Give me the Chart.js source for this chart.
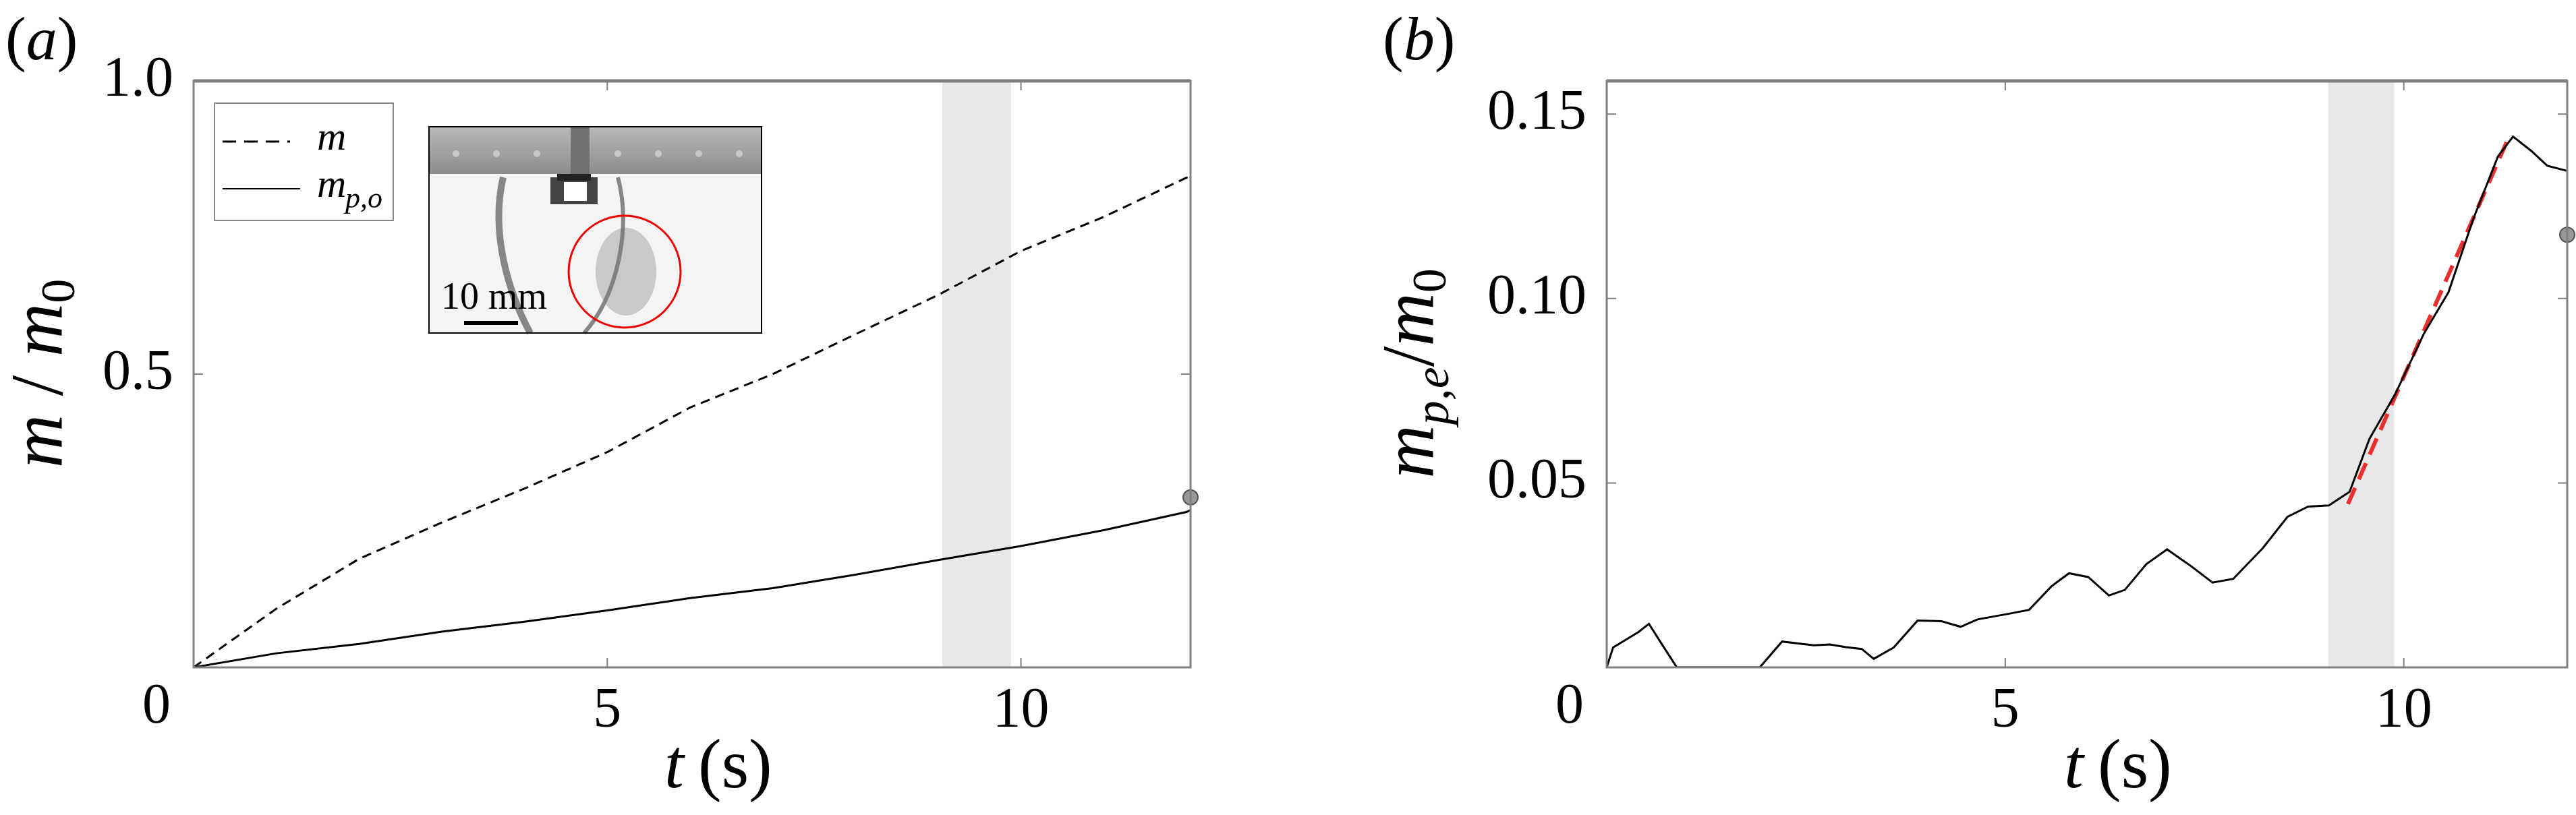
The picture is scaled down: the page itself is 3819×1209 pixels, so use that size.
<!DOCTYPE html><html><head><meta charset="utf-8">
<script src="https://cdn.jsdelivr.net/npm/chart.js@4"></script>
<style>body{margin:0;background:#fff;width:3819px;height:1209px;position:relative;overflow:hidden}
canvas{position:absolute;top:0}</style></head><body>
<div style="position:absolute;left:0;top:0;width:1900px;height:1209px"><canvas id="a"></canvas></div>
<div style="position:absolute;left:1900px;top:0;width:1919px;height:1209px"><canvas id="b"></canvas></div>
<script>
const tA=[0,1,2,3,4,5,6,7,8,9,10,11,12,12.05];
const mTotal=[0,0.10,0.185,0.247,0.305,0.367,0.443,0.50,0.568,0.635,0.71,0.768,0.835,0.833];
const mPO=[0,0.024,0.04,0.061,0.078,0.097,0.118,0.135,0.158,0.183,0.207,0.234,0.265,0.268];
const dotA=[{x:12.05,y:0.29}];
const tB=[0,0.08,0.4,0.53,0.7,0.88,1.92,2.2,2.4,2.6,2.8,3.0,3.2,3.35,3.6,3.9,4.2,4.44,4.65,5.06,5.3,5.58,5.8,6.04,6.3,6.5,6.77,7.03,7.34,7.6,7.86,8.23,8.54,8.8,9.06,9.32,9.57,9.89,10.25,10.56,10.87,11.18,11.37,11.6,11.8,12.05];
const mPE=[0,0.0054,0.0096,0.0118,0.006,0,0,0.007,0.0065,0.006,0.0062,0.0055,0.005,0.0023,0.0054,0.0127,0.0125,0.011,0.013,0.0146,0.0156,0.022,0.0255,0.0245,0.0195,0.021,0.028,0.032,0.0273,0.023,0.024,0.0323,0.0408,0.0436,0.0439,0.0476,0.062,0.074,0.0904,0.1017,0.1215,0.1385,0.1439,0.14,0.136,0.1346];
const fitT=[9.3,11.32], fitV=[0.0443,0.1439];
const dotB=[{x:12.05,y:0.1173}];
const band=[9.05,9.88];
const F='"Liberation Serif", serif';
function pts(t,v){return t.map((x,i)=>({x,y:v[i]}));}
function decor(opts){return{id:'d',
beforeDatasetsDraw(c){const x=c.scales.x,y=c.scales.y,g=c.ctx,a=c.chartArea;g.save();g.fillStyle='#e8e8e8';
 g.fillRect(x.getPixelForValue(band[0]),a.top,x.getPixelForValue(band[1])-x.getPixelForValue(band[0]),a.bottom-a.top);g.restore();},
afterDraw(c){const x=c.scales.x,y=c.scales.y,g=c.ctx,a=c.chartArea;g.save();
 g.strokeStyle='#808080';g.lineWidth=3;g.strokeRect(a.left,a.top,a.right-a.left,a.bottom-a.top);
 g.lineWidth=5;g.beginPath();g.moveTo(a.left,a.top);g.lineTo(a.right,a.top);g.stroke();g.lineWidth=2;
 for(const v of opts.xt){const p=x.getPixelForValue(v);g.beginPath();g.moveTo(p,a.bottom);g.lineTo(p,a.bottom-14);g.moveTo(p,a.top);g.lineTo(p,a.top+14);g.stroke();}
 for(const v of opts.yt){const p=y.getPixelForValue(v);g.beginPath();g.moveTo(a.left,p);g.lineTo(a.left+14,p);g.moveTo(a.right,p);g.lineTo(a.right-14,p);g.stroke();}
 g.fillStyle='#000';g.font='84px '+F;g.textAlign='center';g.textBaseline='top';g.fillText('0',a.left-55,a.bottom+18);
 g.textAlign='left';g.textBaseline='alphabetic';g.font='italic 104px '+F;const tx=opts.xtx;g.fillText('t',tx,1168);
 g.font='104px '+F;g.fillText('(s)',tx+50,1168);
 g.font='92px '+F;g.fillText('(',opts.pl,88);let w=g.measureText('(').width;g.font='italic 92px '+F;g.fillText(opts.plc,opts.pl+w,88);
 let w2=g.measureText(opts.plc).width;g.font='92px '+F;g.fillText(')',opts.pl+w+w2,88);
 g.translate(opts.ytx,554);g.rotate(-Math.PI/2);g.textAlign='left';g.textBaseline='alphabetic';
 const parts=opts.ytitle;let tot=0;for(const p of parts){g.font=(p[1]?'italic ':'')+p[2]+'px '+F;tot+=g.measureText(p[0]).width;}
 let cx=-tot/2;for(const p of parts){g.font=(p[1]?'italic ':'')+p[2]+'px '+F;g.fillText(p[0],cx,p[3]);cx+=g.measureText(p[0]).width;}
 g.restore(); if(opts.extra)opts.extra(g);}};}
function inset(g){g.save();const L=636,T=188,W=493,H=306;
 g.fillStyle='#f4f4f4';g.fillRect(L,T,W,H);
 let gr=g.createLinearGradient(0,T,0,T+70);gr.addColorStop(0,'#b8b8b8');gr.addColorStop(1,'#8c8c8c');g.fillStyle=gr;g.fillRect(L,T,W,70);
 g.fillStyle='#c8c8c8';for(let i=0;i<8;i++){g.beginPath();g.arc(L+40+i*60,T+40,5,0,7);g.fill();}
 g.fillStyle='#707070';g.fillRect(L+210,T,28,70);
 g.fillStyle='#444';g.fillRect(L+180,T+75,70,40);g.fillStyle='#fff';g.fillRect(L+200,T+82,34,28);
 g.fillStyle='#222';g.fillRect(L+190,T+70,50,10);
 g.strokeStyle='rgba(60,60,60,0.6)';g.lineWidth=10;g.beginPath();g.moveTo(L+110,T+75);g.bezierCurveTo(L+90,T+160,L+120,T+250,L+150,T+H);g.stroke();
 g.lineWidth=6;g.beginPath();g.moveTo(L+280,T+75);g.bezierCurveTo(L+300,T+150,L+280,T+250,L+230,T+H);g.stroke();
 g.fillStyle='rgba(120,120,120,0.35)';g.beginPath();g.ellipse(L+292,T+215,45,65,0,0,7);g.fill();
 g.strokeStyle='#e00';g.lineWidth=3;g.beginPath();g.ellipse(L+290,T+215,83,83,0,0,7);g.stroke();
 g.fillStyle='#000';g.fillRect(L+52,T+288,80,6);g.font='56px '+F;g.textAlign='left';g.fillText('10 mm',L+18,T+270);
 g.strokeStyle='#000';g.lineWidth=2;g.strokeRect(L,T,W,H);
 g.fillStyle='#fff';g.fillRect(318,153,265,174);g.strokeStyle='#888';g.strokeRect(318,153,265,174);
 g.strokeStyle='#000';g.lineWidth=3;g.setLineDash([20,12]);g.beginPath();g.moveTo(330,210);g.lineTo(430,210);g.stroke();
 g.setLineDash([]);g.lineWidth=2;g.beginPath();g.moveTo(330,280);g.lineTo(445,280);g.stroke();
 g.fillStyle='#000';g.font='italic 60px '+F;g.fillText('m',470,222);g.fillText('m',470,292);g.font='italic 44px '+F;g.fillText('p,o',512,308);
 g.restore();}
const common=(xmax,ymax,yticks)=>({responsive:false,animation:false,devicePixelRatio:1,
 plugins:{legend:{display:false},tooltip:{enabled:false}},
 scales:{x:{type:'linear',min:0,max:xmax,grid:{display:false},border:{display:false},
   afterBuildTicks:s=>{s.ticks=[5,10].map(v=>({value:v}));},
   ticks:{font:{family:F,size:84},color:'#000',padding:8,maxRotation:0},afterFit:s=>{s.height=219;}},
  y:{type:'linear',min:0,max:ymax,grid:{display:false},border:{display:false},
   afterBuildTicks:s=>{s.ticks=yticks.map(v=>({value:v}));},
   ticks:{font:{family:F,size:84},color:'#000',padding:22,callback:v=>v.toFixed(yticks[0]<0.1?2:1)}}},
 layout:{padding:{top:120}}});
const ca=document.getElementById('a');ca.width=1900;ca.height=1209;
const oa=common(12.05,1.0,[0.5,1.0]);oa.scales.y.afterFit=s=>{s.width=287;};oa.layout.padding.right=135;
new Chart(ca,{type:'scatter',data:{datasets:[
 {data:pts(tA,mTotal),showLine:true,borderColor:'#000',borderWidth:3,borderDash:[14,9],pointRadius:0},
 {data:pts(tA,mPO),showLine:true,borderColor:'#000',borderWidth:3,pointRadius:0},
 {data:dotA,pointRadius:11,backgroundColor:'#999',borderColor:'#555',borderWidth:2,clip:false}]},
 options:oa,plugins:[decor({xt:[5,10],yt:[0.5],xtx:985,pl:8,plc:'a',ytx:92,
  ytitle:[['m',1,110,0],[' / ',0,110,0],['m',1,110,0],['0',0,72,18]],extra:inset})]});
const cb=document.getElementById('b');cb.width=1919;cb.height=1209;
const ob=common(12.05,0.159,[0.05,0.10,0.15]);ob.scales.y.afterFit=s=>{s.width=482;};ob.layout.padding.right=9;
new Chart(cb,{type:'scatter',data:{datasets:[
 {data:pts(tB,mPE),showLine:true,borderColor:'#000',borderWidth:3,pointRadius:0},
 {data:pts(fitT,fitV),showLine:true,borderColor:'#e8302f',borderWidth:6,borderDash:[26,14],pointRadius:0},
 {data:dotB,pointRadius:11,backgroundColor:'#999',borderColor:'#555',borderWidth:2,clip:false}]},
 options:ob,plugins:[decor({xt:[5,10],yt:[0.05,0.10,0.15],xtx:1160,pl:150,plc:'b',ytx:225,
  ytitle:[['m',1,110,0],['p,e',1,72,22],['/',0,110,0],['m',1,110,0],['0',0,72,18]]})]});
</script></body></html>
